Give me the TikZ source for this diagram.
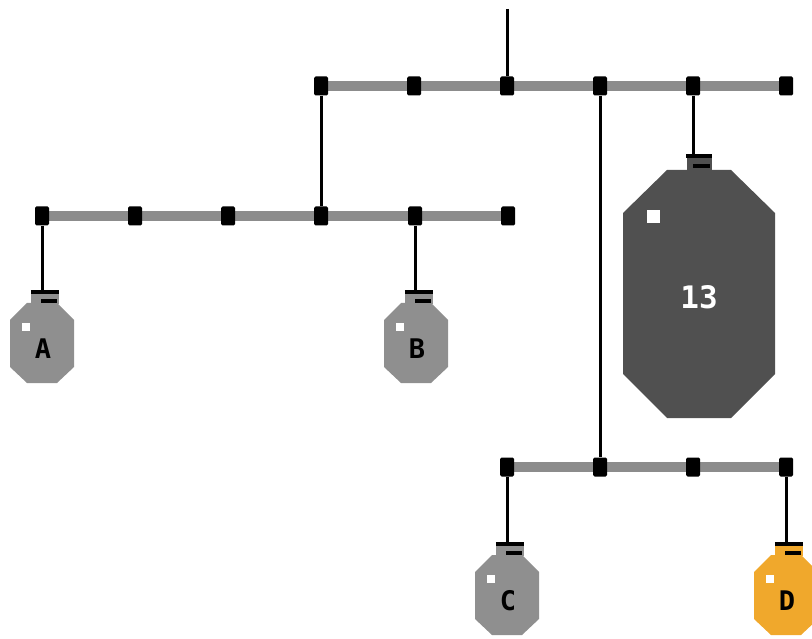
\documentclass[tikz,border=0pt]{standalone}
\usepackage{fontspec}
\newfontfamily\lblfont{DejaVu Sans Mono}
\usetikzlibrary{backgrounds}
\definecolor{bargray}{HTML}{8C8C8C}
\definecolor{wgray}{HTML}{8F8F8F}
\definecolor{wdark}{HTML}{505050}
\definecolor{worange}{HTML}{F0A82C}
\tikzset{
 tick/.style={fill=black, minimum width=14pt, minimum height=19pt, inner sep=0pt, rounded corners=1.5pt},
 bar/.style={draw=bargray, line width=10pt},
 rope/.style={draw=black, line width=3pt},
 hook/.style={minimum width=28pt, minimum height=14pt, inner sep=0pt},
 lbl/.style={font=\lblfont\bfseries\fontsize{27}{27}\selectfont, inner sep=0pt},
 biglbl/.style={font=\lblfont\bfseries\fontsize{31}{31}\selectfont, inner sep=0pt, text=white},
}
% name, cx, hooktop, color, label
\newcommand\smallwt[5]{%
 \fill[#4] (#2-15,#3+13) -- (#2+15,#3+13) -- (#2+32,#3+30) -- (#2+32,#3+77) -- (#2+15,#3+93) -- (#2-15,#3+93) -- (#2-32,#3+77) -- (#2-32,#3+30) -- cycle;
 \node[hook,fill=#4,anchor=north] (#1) at (#2+3,#3) {};
 \draw[line width=4pt] ([yshift=-2pt]#1.north west) -- ([yshift=-2pt]#1.north east);
 \draw[line width=3.5pt] ([xshift=-4pt,yshift=-11pt]#1.north) -- ++(16,0);
 \fill[white] (#2-20,#3+33) rectangle ++(8,8);
 \node[lbl] (#1lbl) at (#2+1,#3+59) {#5};
}
\begin{document}
\begin{tikzpicture}[x=1pt,y=-1pt]
\useasboundingbox (0,0) rectangle (812,639);
% ticks
\coordinate (top) at (507,9);
\foreach \n/\x in {1/321,2/414,3/507,4/600,5/693,6/786} \node[tick] (t\n) at (\x,86) {};
\foreach \n/\x in {1/42,2/135,3/228,4/321,5/415,6/508} \node[tick] (s\n) at (\x,216) {};
\foreach \n/\x in {1/507,2/600,3/693,4/786} \node[tick] (u\n) at (\x,467) {};
% small weights
\smallwt{A}{42}{290}{wgray}{A}
\smallwt{B}{416}{290}{wgray}{B}
\smallwt{C}{507}{542}{wgray}{C}
\smallwt{D}{786}{542}{worange}{D}
% big weight
\fill[wdark] (667,170) -- (731,170) -- (775,213) -- (775,374) -- (731,418) -- (667,418) -- (623,374) -- (623,213) -- cycle;
\node[hook,fill=wdark,anchor=north,minimum width=25pt,minimum height=16pt] (W) at (699,154) {};
\draw[line width=4pt] ([yshift=-2pt]W.north west) -- ([yshift=-2pt]W.north east);
\draw[line width=3.5pt] ([xshift=-6pt,yshift=-12pt]W.north) -- ++(17,0);
\fill[white] (647,210) rectangle ++(13,13);
\node[biglbl] (Wlbl) at (699,297) {13};
% bars and ropes
\begin{scope}[on background layer]
\draw[bar] (t1.center) -- (t6.center);
\draw[bar] (s1.center) -- (s6.center);
\draw[bar] (u1.center) -- (u4.center);
\draw[rope] (top) -- (t3);
\draw[rope] (t1) -- (s4);
\draw[rope] (t4) -- (u2);
\draw[rope] (s1) -- (s1 |- A.north);
\draw[rope] (s5) -- (s5 |- B.north);
\draw[rope] (u1) -- (u1 |- C.north);
\draw[rope] (u4) -- (u4 |- D.north);
\draw[rope] (t5) -- (t5 |- W.north);
\end{scope}
\end{tikzpicture}
\end{document}
